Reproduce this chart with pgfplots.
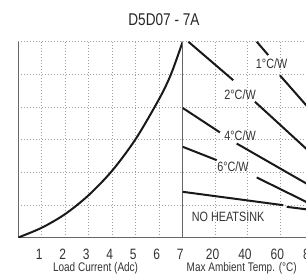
\documentclass[border=0pt]{standalone}
\usepackage{pgfplots}
\pgfplotsset{compat=1.18}
\usepackage{fontspec}
\setmainfont{Liberation Sans}[FakeStretch=0.8]
\begin{document}
\begin{tikzpicture}
\useasboundingbox (0,0) rectangle (306pt,277pt);
\pgfplotsset{
  common/.style={
    scale only axis, height=195.8pt,
    ymin=0, ymax=6, ytick={1,2,3,4,5,6}, yticklabels={},
    major tick length=0pt, tick style={draw=none},
    grid=major,
    major grid style={gray!75, line width=0.6pt, dash pattern=on 0.8pt off 2.2pt},
    axis x line*=bottom, axis y line*=left,
    axis line style={black!60, line width=0.8pt},
    /pgf/number format/assume math mode=true,
    xticklabel style={font=\fontsize{15}{15}\selectfont, text=black!80, anchor=base, inner sep=0pt, yshift=-22pt, xshift=-2.5pt},
    xlabel style={font=\fontsize{12.5}{12.5}\selectfont, text=black!80, anchor=base, inner sep=0pt},
  },
  crv/.style={black!90, line width=2pt, mark=none},
}
\begin{axis}[common,
  at={(18.3pt,39.5pt)}, anchor=south west, width=164.4pt,
  xmin=0, xmax=7, xtick={1,2,3,4,5,6,7}, xticklabels={1,2,3,4,5,6,7},
  xlabel={Load Current (Adc)},
  xlabel style={at={(axis description cs:0.47,0)}, yshift=-34pt},
  title={D5D07 - 7A},
  title style={at={(axis description cs:0.886,1)}, anchor=base, yshift=10pt, font=\fontsize{17}{17}\selectfont, text=black!85},
]
\addplot[crv, smooth] coordinates {(0,0) (1,0.3) (2,0.72) (3,1.3) (4,2.05) (5,3.02) (6,4.25) (6.5,5.0) (7,6)};
\end{axis}
\begin{axis}[common,
  at={(182.7pt,39.5pt)}, anchor=south west, width=162pt,
  xmin=0, xmax=100, xtick={20,40,60,80,100}, xticklabels={20,40,60,80,100},
  xlabel={Max Ambient Temp. (°C)},
  xlabel style={at={(axis description cs:0.364,0)}, yshift=-34pt},
]
\addplot[crv] coordinates {(45.7,6.0) (52.8,5.59)};
\addplot[crv] coordinates {(60.0,4.97) (80,3.84)};
\addplot[crv] coordinates {(3.5,6.0) (31.2,4.82)};
\addplot[crv] coordinates {(44.6,4.16) (80,2.55)};
\addplot[crv] coordinates {(0,3.97) (23,3.22)};
\addplot[crv] coordinates {(33.3,2.88) (80,1.55)};
\addplot[crv] coordinates {(0,2.78) (21,2.37)};
\addplot[crv] coordinates {(45.7,1.84) (80,1.0)};
\addplot[crv] coordinates {(0,1.40) (62.1,0.99)};
\addplot[crv] coordinates {(64.2,0.94) (80,0.84)};
\node[font=\fontsize{13.5}{13.5}\selectfont, text=black!80] at (axis cs:54.9,5.34) {1°C/W};
\node[font=\fontsize{13.5}{13.5}\selectfont, text=black!80] at (axis cs:35.4,4.39) {2°C/W};
\node[font=\fontsize{13.5}{13.5}\selectfont, text=black!80] at (axis cs:35.4,3.11) {4°C/W};
\node[font=\fontsize{13.5}{13.5}\selectfont, text=black!80] at (axis cs:31.0,2.16) {6°C/W};
\node[font=\fontsize{13.5}{13.5}\selectfont, text=black!80] at (axis cs:28.0,0.64) {NO HEATSINK};
\end{axis}
\end{tikzpicture}
\end{document}
